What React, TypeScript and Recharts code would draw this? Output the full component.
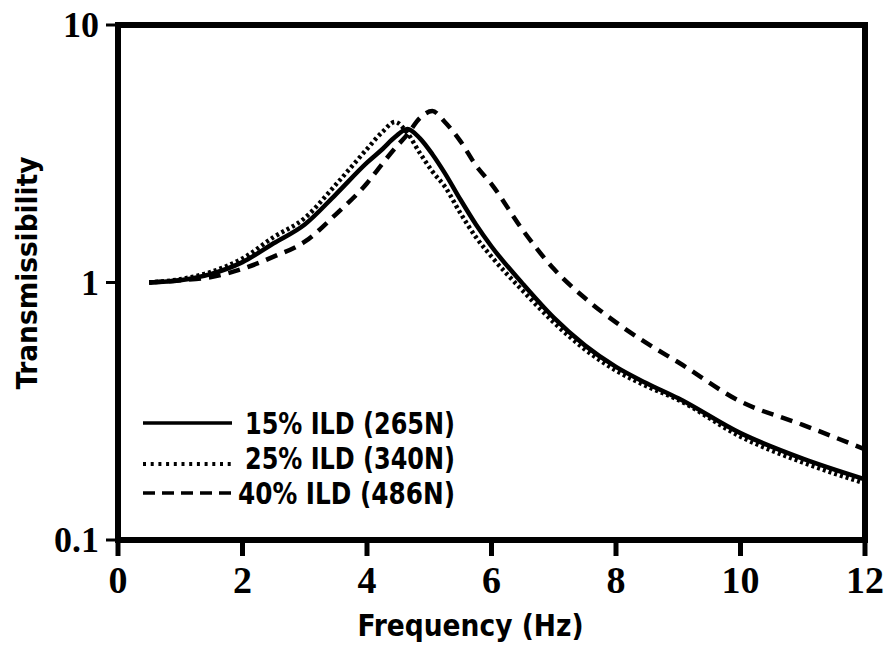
import { LineChart, Line, XAxis, YAxis, ReferenceArea } from 'recharts'

// frequency grid (Hz) and transmissibility
const FREQ = [0.5, 1, 1.5, 2, 2.5, 3, 3.5, 4, 4.25, 4.45, 4.65, 4.85, 5.05, 5.25, 5.5, 5.75, 6, 6.5, 7, 7.5, 8, 8.5, 9, 10, 11, 12]
const T15 = [1.0, 1.02, 1.08, 1.2, 1.42, 1.68, 2.2, 2.92, 3.3, 3.67, 3.95, 3.63, 3.15, 2.66, 2.1, 1.68, 1.38, 0.99, 0.73, 0.57, 0.47, 0.405, 0.355, 0.26, 0.207, 0.172]
const T25 = [1.0, 1.03, 1.1, 1.24, 1.5, 1.78, 2.4, 3.3, 3.85, 4.2, 3.8, 3.18, 2.7, 2.36, 1.86, 1.5, 1.26, 0.93, 0.7, 0.55, 0.455, 0.395, 0.35, 0.252, 0.2, 0.166]
const T40 = [1.0, 1.02, 1.05, 1.13, 1.26, 1.44, 1.84, 2.43, 2.9, 3.32, 3.76, 4.35, 4.63, 4.2, 3.54, 2.85, 2.41, 1.6, 1.13, 0.87, 0.7, 0.58, 0.49, 0.345, 0.28, 0.225]

const X_TICKS = [0, 2, 4, 6, 8, 10, 12]
const Y_TICKS = [0.1, 1, 10]
const NAMES = ['15% ILD (265N)', '25% ILD (340N)', '40% ILD (486N)']

const data = FREQ.map((f, i) => ({ f, s15: T15[i], s25: T25[i], s40: T40[i] }))

const serif = "'Liberation Serif', 'Times New Roman', serif"
const narrow = "'Liberation Sans Narrow', 'DejaVu Sans Condensed', 'Liberation Sans', sans-serif"

const XTick = (props: any) => {
  const { x, y, payload } = props
  return (
    <text x={x} y={y} dy={33} textAnchor="middle" fontFamily={serif} fontWeight="bold" fontSize={38} fill="#000">
      {payload.value}
    </text>
  )
}

const YTick = (props: any) => {
  const { x, y, payload } = props
  return (
    <text x={x - 3} y={y} dy={12} textAnchor="end" fontFamily={serif} fontWeight="bold" fontSize={36} fill="#000">
      {String(payload.value)}
    </text>
  )
}

const XLabel = (props: any) => {
  const vb = props.viewBox
  const cx = vb.x + vb.width / 2 - 21
  return (
    <text x={cx} y={vb.y + 96} textAnchor="middle" fontFamily={narrow} fontWeight="bold" fontSize={30}
      textLength={226} lengthAdjust="spacingAndGlyphs" fill="#000">
      Frequency (Hz)
    </text>
  )
}

const YLabel = () => (
  <text x={27} y={273} textAnchor="middle" dominantBaseline="central" transform="rotate(-90, 27, 273)"
    fontFamily={narrow} fontWeight="bold" fontSize={28} textLength={233} lengthAdjust="spacingAndGlyphs" fill="#000">
    Transmissibility
  </text>
)

const dashes = ['', '3 4.7', '12 7']
const textWidths = [210, 210, 217]

// legend drawn as an overlay inside the plot, lower left
const LegendBox = () => (
  <svg width={340} height={115} style={{ position: 'absolute', left: 140, top: 400 }}>
    {NAMES.map((name, i) => {
      const y = 23 + i * 35
      return (
        <g key={name}>
          <line x1={3} x2={92} y1={i === 1 ? y + 6 : y} y2={i === 1 ? y + 6 : y} stroke="#000" strokeWidth={i === 1 ? 4 : 3.5}
            strokeDasharray={dashes[i] || undefined} />
          <text x={i === 2 ? 98 : 105} y={y + 11} fontFamily={narrow} fontWeight="bold" fontSize={30}
            textLength={textWidths[i]} lengthAdjust="spacingAndGlyphs" fill="#000">
            {name}
          </text>
        </g>
      )
    })}
  </svg>
)

export default function App() {
  return (
    <div style={{ position: 'absolute', left: 0, top: 0, width: 891, height: 650, background: '#fff' }}>
      <LineChart width={891} height={650} data={data} margin={{ top: 25, right: 26, bottom: 0, left: 0 }}>
        <XAxis
          dataKey="f"
          type="number"
          domain={[0, 12]}
          ticks={X_TICKS}
          allowDataOverflow
          height={110}
          tickSize={16}
          tickMargin={4}
          tickLine={{ stroke: '#000', strokeWidth: 5 }}
          axisLine={{ stroke: '#000', strokeWidth: 6 }}
          tick={<XTick />}
          label={{ value: 'Frequency (Hz)', content: <XLabel /> }}
        />
        <YAxis
          type="number"
          scale="log"
          domain={[0.1, 10]}
          ticks={Y_TICKS}
          allowDataOverflow
          width={118}
          tickSize={12}
          tickMargin={4}
          tickLine={{ stroke: '#000', strokeWidth: 3 }}
          axisLine={{ stroke: '#000', strokeWidth: 6 }}
          tick={<YTick />}
          label={{ value: 'Transmissibility', content: <YLabel /> }}
        />
        <ReferenceArea x1={0} x2={12} y1={0.1} y2={10} fill="none" stroke="#000" strokeWidth={6} />
        <Line type="monotone" dataKey="s40" name={NAMES[2]} stroke="#000" strokeWidth={4.5} strokeDasharray="12 8"
          dot={false} isAnimationActive={false} />
        <Line type="monotone" dataKey="s25" name={NAMES[1]} stroke="#000" strokeWidth={4.5} strokeDasharray="3 3"
          dot={false} isAnimationActive={false} />
        <Line type="monotone" dataKey="s15" name={NAMES[0]} stroke="#000" strokeWidth={4.5}
          dot={false} isAnimationActive={false} />
      </LineChart>
      <LegendBox />
    </div>
  )
}
